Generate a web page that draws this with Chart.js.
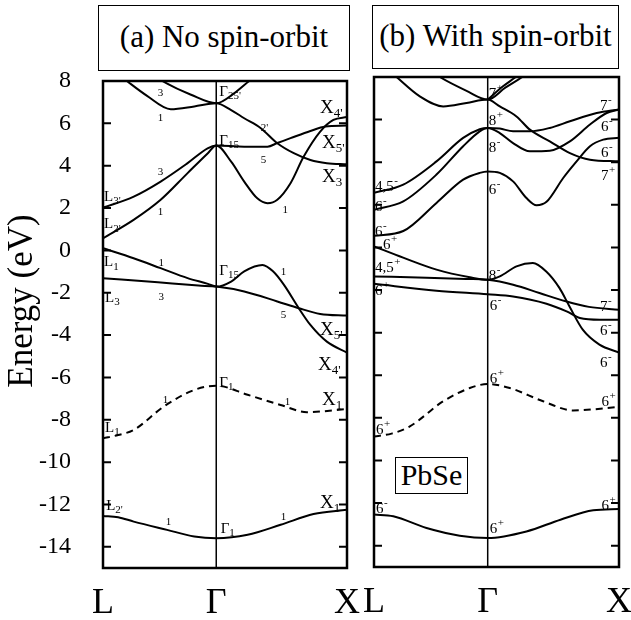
<!DOCTYPE html>
<html>
<head>
<meta charset="utf-8">
<script src="https://cdn.jsdelivr.net/npm/chart.js@4.4.0/dist/chart.umd.min.js"></script>
<style>
  body { margin: 0; background: #fff; width: 631px; height: 620px; position: relative; overflow: hidden;
         font-family: "Liberation Serif", "Times New Roman", serif; }
  canvas { position: absolute; top: 0; }
  .box { position: absolute; border: 1.5px solid #000; box-sizing: border-box; text-align: center; color: #000; background: #fff; }
</style>
</head>
<body>
<div class="box" style="left:98px;top:5px;width:252px;height:66px;font-size:31px;line-height:62px;">(a) No spin-orbit</div>
<div class="box" style="left:372px;top:5px;width:247px;height:64px;font-size:31px;line-height:60px;">(b) With spin-orbit</div>
<canvas id="noSo" width="362" height="620" style="left:0"></canvas>
<canvas id="withSo" width="269" height="620" style="left:362px"></canvas>
<div class="box" style="left:395px;top:457px;width:73px;height:37px;font-size:30px;line-height:34px;">PbSe</div>
<script>
// k path: L = 0, Gamma = 0.866, X = 1.866
const kTicks = [0, 0.866, 1.866];
const kLabels = ['L', 'Γ', 'X'];
const energyTicks = [8, 6, 4, 2, 0, -2, -4, -6, -8, -10, -12, -14];

// (a) no spin-orbit, [k, energy eV]
const aBand1 = [[0,-12.54],[0.116,-12.6],[0.235,-12.81],[0.49,-13.2],[0.698,-13.51],[0.866,-13.59],[1.106,-13.43],[1.358,-12.96],[1.61,-12.45],[1.866,-12.25]];
const aBand2 = [[0,-8.87],[0.116,-8.72],[0.235,-8.48],[0.466,-7.37],[0.698,-6.59],[0.866,-6.39],[1.106,-6.82],[1.358,-7.3],[1.56,-7.64],[1.866,-7.49]];
const aBand3 = [[0,-1.31],[0.42,-1.51],[0.73,-1.66],[0.866,-1.71],[1.08,-1.94],[1.333,-2.41],[1.497,-2.73],[1.661,-3.0],[1.866,-3.08]];
const aBand4 = [[0,0.1],[0.234,-0.37],[0.441,-0.84],[0.647,-1.31],[0.802,-1.58],[0.866,-1.71],[0.98,-1.47],[1.08,-0.99],[1.22,-0.69],[1.3,-0.99],[1.384,-1.63],[1.497,-2.73],[1.586,-3.52],[1.712,-4.31],[1.866,-4.83]];
const aBand5 = [[0,0.57],[0.234,1.44],[0.441,2.39],[0.647,3.65],[0.802,4.59],[0.866,4.95],[0.98,4.19],[1.08,3.25],[1.18,2.46],[1.258,2.23],[1.333,2.39],[1.434,3.17],[1.535,4.43],[1.661,5.61],[1.762,6.16],[1.866,6.3]];
const aBand6 = [[0,2.02],[0.235,2.54],[0.441,3.25],[0.647,4.12],[0.8,4.82],[0.866,4.95],[1.08,4.9],[1.258,4.9],[1.333,5.07],[1.434,5.3],[1.586,5.64],[1.7,5.85],[1.866,5.9]];
const aBand7 = [[0.1,8.4],[0.183,8.0],[0.337,7.3],[0.518,6.67],[0.698,6.8],[0.866,6.95],[0.98,6.63],[1.08,6.24],[1.207,5.77],[1.333,5.06],[1.459,4.59],[1.586,4.27],[1.712,4.12],[1.866,4.07]];
const aBand8 = [[0.38,8.3],[0.453,8.0],[0.673,7.35],[0.866,6.95],[1.005,7.43],[1.118,8.0],[1.18,8.3]];

// (b) with spin-orbit
const bBand1 = [[0,-12.54],[0.147,-12.62],[0.4,-13.17],[0.653,-13.53],[0.866,-13.64],[1.161,-13.33],[1.42,-12.78],[1.67,-12.34],[1.866,-12.28]];
const bBand2 = [[0,-8.87],[0.134,-8.74],[0.273,-8.4],[0.527,-7.22],[0.73,-6.6],[0.866,-6.41],[1.034,-6.6],[1.288,-7.22],[1.517,-7.65],[1.866,-7.49]];
const bBand3 = [[0,-1.71],[0.476,-2.03],[0.866,-2.2],[1.059,-2.3],[1.314,-2.64],[1.467,-3.0],[1.568,-3.31],[1.72,-3.39],[1.866,-3.39]];
const bBand4 = [[0,-1.36],[0.4,-1.42],[0.7,-1.48],[0.866,-1.52],[1.06,-1.75],[1.26,-2.14],[1.46,-2.53],[1.637,-2.79],[1.866,-2.92]];
const bBand5 = [[0,0.05],[0.222,-0.48],[0.476,-1.04],[0.73,-1.4],[0.866,-1.52],[0.958,-1.36],[1.085,-0.89],[1.21,-0.73],[1.31,-1.12],[1.412,-1.9],[1.488,-2.76],[1.59,-3.86],[1.717,-4.56],[1.866,-4.93]];
const bBand6 = [[0,0.55],[0.223,0.77],[0.476,2.09],[0.679,3.18],[0.805,3.5],[0.866,3.57],[0.958,3.5],[1.059,3.1],[1.161,2.32],[1.238,1.98],[1.314,2.14],[1.441,3.26],[1.543,4.04],[1.645,4.75],[1.746,5.06],[1.866,5.15]];
const bBand7 = [[0,1.77],[0.223,2.16],[0.476,3.42],[0.679,4.75],[0.805,5.45],[0.866,5.61],[0.958,5.58],[1.059,5.45],[1.187,5.45],[1.339,5.61],[1.492,5.92],[1.696,6.31],[1.866,6.48]];
const bBand8 = [[0,2.56],[0.223,2.95],[0.476,4.04],[0.679,5.14],[0.805,5.55],[0.866,5.61],[0.958,5.37],[1.059,4.9],[1.187,4.51],[1.339,4.54],[1.492,4.98],[1.645,5.77],[1.772,6.31],[1.866,6.48]];
const bBand9 = [[0.1,8.4],[0.172,8.0],[0.349,7.09],[0.527,6.62],[0.705,6.78],[0.866,6.94],[0.958,6.62],[1.085,6.15],[1.187,5.53],[1.339,4.98],[1.492,4.43],[1.645,4.12],[1.866,4.04]];
const bBand10 = [[0.43,8.3],[0.501,8.0],[0.705,7.35],[0.866,6.94],[1.0,7.5],[1.13,8.0],[1.2,8.3]];
const bBand11 = [[0.866,6.94],[0.98,7.55],[1.08,8.0],[1.14,8.3]];

// symmetry labels: [text, subscript, superscript, k, energy, font size]
const labelsNoSo = [
  ['3','','',0.418,7.29,11], ['1','','',0.418,6.11,11], ["2'",'','',1.207,5.64,11], ['5','','',1.207,4.13,11],
  ['3','','',0.418,3.56,11], ['1','','',0.418,1.68,11], ['1','','',1.373,1.77,11],
  ['1','','',0.425,-0.75,11], ['1','','',1.36,-1.16,11], ['3','','',0.425,-2.34,11], ['5','','',1.36,-3.19,11],
  ['1','','',0.456,-7.2,11], ['1','','',1.39,-7.3,11], ['1','','',0.48,-12.96,11], ['1','','',1.36,-12.73,11],
  ['Γ',"25'",'',0.889,7.29,15], ['Γ','15','',0.889,4.98,15], ['Γ','15','',0.889,-1.16,15], ['Γ','1','',0.889,-6.45,15], ['Γ','1','',0.9,-13.34,15],
  ['L',"3'",'',0.008,2.34,15], ['L',"2'",'',0.008,1.04,15], ['L','1','',0.008,-0.75,15], ['L','3','',0.016,-2.43,15], ['L','1','',0.016,-8.57,15], ['L',"2'",'',0.024,-12.25,15],
  ['X',"4'",'',1.66,6.49,19], ['X',"5'",'',1.675,4.84,19], ['X','3','',1.675,3.23,19], ['X',"5'",'',1.66,-3.99,19], ['X',"4'",'',1.645,-5.64,19], ['X','1','',1.675,-7.3,19], ['X','1','',1.66,-12.16,19]
];
const labelsWithSo = [
  ['7','','+',0.874,7.03,15], ['8','','+',0.874,5.77,15], ['8','','-',0.874,4.5,15], ['6','','-',0.874,2.53,15],
  ['4,5','','-',0.008,2.67,15], ['6','','-',0.008,1.73,15], ['6','','-',0.008,0.56,15], ['6','','+',0.068,-0.06,15],
  ['4,5','','+',0.008,-1.14,15], ['8','','-',0.874,-1.51,15], ['6','','+',0.008,-2.22,15],
  ['7','','-',1.721,6.47,15], ['6','','-',1.729,5.48,15], ['6','','-',1.729,4.26,15], ['7','','+',1.729,3.18,15],
  ['6','','-',0.881,-2.92,15], ['7','','-',1.721,-2.97,15], ['6','','-',1.721,-4.09,15], ['6','','-',1.721,-5.6,15],
  ['6','','+',0.881,-6.35,15], ['6','','+',1.733,-7.43,15], ['6','','+',0.015,-8.74,15], ['6','','-',0.015,-12.45,15],
  ['6','','+',0.881,-13.39,15], ['6','','+',1.733,-12.31,15]
];

const serif = '"Liberation Serif", "Times New Roman", serif';

function band(points, dashed) {
  return {
    data: points.map(p => ({ x: p[0], y: p[1] })),
    showLine: true,
    borderColor: '#000',
    borderWidth: 2,
    borderDash: dashed ? [7, 5] : [],
    pointRadius: 0,
    cubicInterpolationMode: 'monotone'
  };
}

// frame, inward ticks, Gamma line and the symmetry labels
const decor = {
  id: 'decor',
  afterDraw(chart, args, opts) {
    const { ctx, chartArea: a } = chart;
    const x = chart.scales.x, y = chart.scales.y;
    ctx.save();
    ctx.strokeStyle = '#000';
    ctx.lineWidth = 1.5;
    const gx = x.getPixelForValue(kTicks[1]);
    ctx.beginPath();
    ctx.moveTo(gx, a.top);
    ctx.lineTo(gx, a.bottom);
    ctx.stroke();

    ctx.lineWidth = 2;
    energyTicks.forEach(v => {
      const py = y.getPixelForValue(v);
      ctx.beginPath();
      ctx.moveTo(a.left, py); ctx.lineTo(a.left + 8, py);
      ctx.moveTo(a.right, py); ctx.lineTo(a.right - 8, py);
      ctx.stroke();
    });
    ctx.lineWidth = 2.5;
    ctx.strokeRect(a.left, a.top, a.right - a.left, a.bottom - a.top);

    ctx.fillStyle = '#000';
    ctx.textAlign = 'left';
    ctx.textBaseline = 'alphabetic';
    opts.items.forEach(([main, sub, sup, k, e, size]) => {
      const px = x.getPixelForValue(k), py = y.getPixelForValue(e);
      ctx.font = size + 'px ' + serif;
      ctx.fillText(main, px, py);
      const w = ctx.measureText(main).width;
      ctx.font = Math.round(size * 0.7) + 'px ' + serif;
      if (sub) ctx.fillText(sub, px + w, py + size * 0.22);
      if (sup) ctx.fillText(sup, px + w + 0.5, py - size * 0.42);
    });

    if (opts.yTitle) {
      ctx.translate(32, 301);
      ctx.rotate(-Math.PI / 2);
      ctx.textAlign = 'center';
      ctx.font = '35px ' + serif;
      ctx.fillText(opts.yTitle, 0, 0);
    }
    ctx.restore();
  }
};

function makePanel(id, bands, dashedBand, labels, withAxis, padding, xHeight) {
  const datasets = bands.map(b => band(b, false));
  datasets.push(band(dashedBand, true));
  return new Chart(document.getElementById(id), {
    type: 'scatter',
    data: { datasets },
    options: {
      responsive: false,
      animation: false,
      events: [],
      layout: { padding },
      plugins: {
        legend: { display: false },
        tooltip: { enabled: false },
        decor: { items: labels, yTitle: withAxis ? 'Energy (eV)' : '' }
      },
      scales: {
        x: {
          type: 'linear', min: 0, max: 1.866,
          grid: { display: false }, border: { display: false },
          afterBuildTicks: s => { s.ticks = kTicks.map(v => ({ value: v })); },
          afterFit: s => { s.height = xHeight; s.paddingLeft = 0; s.paddingRight = 0; },
          ticks: { padding: 6, color: '#000', font: { family: serif, size: 36 }, callback: (v, i) => kLabels[i] }
        },
        y: {
          min: -15, max: 8, display: withAxis,
          grid: { display: false }, border: { display: false },
          afterBuildTicks: s => { s.ticks = energyTicks.map(v => ({ value: v })); },
          afterFit: s => { s.width = withAxis ? 103 : 0; s.paddingTop = 0; s.paddingBottom = 0; },
          ticks: { padding: 24, color: '#000', font: { family: serif, size: 24 }, callback: v => String(v) }
        }
      }
    },
    plugins: [decor]
  });
}

function drawAll() {
  makePanel('noSo', [aBand1, aBand3, aBand4, aBand5, aBand6, aBand7, aBand8], aBand2, labelsNoSo, true,
    { top: 81, right: 15, bottom: 0, left: 0 }, 52);
  makePanel('withSo', [bBand1, bBand3, bBand4, bBand5, bBand6, bBand7, bBand8, bBand9, bBand10, bBand11], bBand2, labelsWithSo, false,
    { top: 77, right: 12, bottom: 0, left: 12 }, 53);
}

// wait for the serif face so canvas text does not fall back to a sans font
Promise.all([
  document.fonts.load('24px "Liberation Serif"'),
  document.fonts.load('36px "Liberation Serif"')
]).then(drawAll, drawAll);
</script>
</body>
</html>
